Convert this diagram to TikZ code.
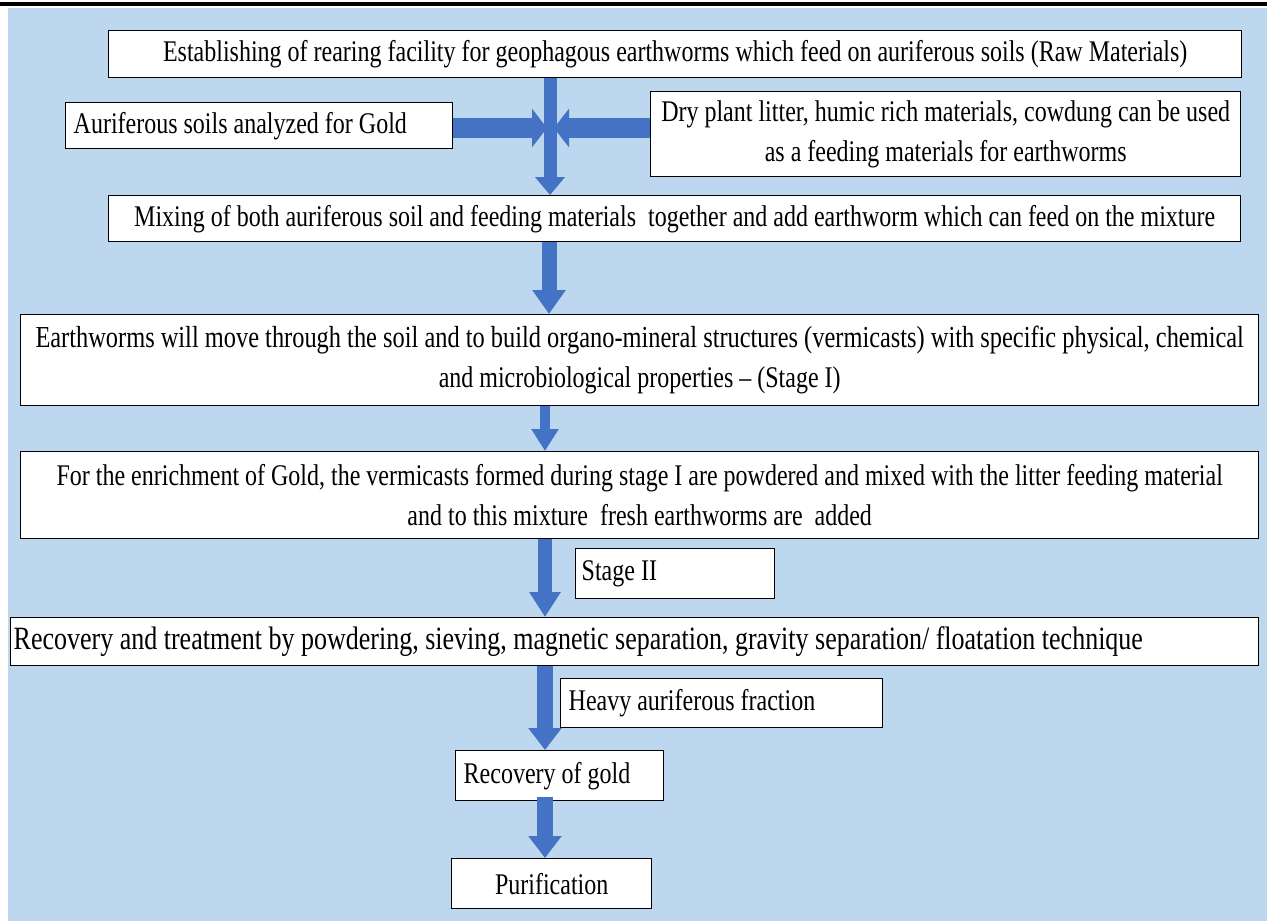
\documentclass[tikz,border=0pt]{standalone}
\usepackage{fontspec}
\setmainfont{Liberation Serif}[FakeStretch=0.8]
\usetikzlibrary{arrows.meta}
\definecolor{bgblue}{HTML}{BDD7EE}
\definecolor{ablue}{HTML}{4472C4}
\tikzset{
  box/.style={draw=black, line width=1.4pt, fill=white, inner sep=0pt, anchor=north west,
    font=\fontsize{30}{40}\selectfont, align=center},
  lbox/.style={box, inner xsep=8pt},
  blockarrow/.style n args={3}{draw=ablue, line width=#1, -{Triangle[width=#2,length=#3]}},
}
\begin{document}
\begin{tikzpicture}[x=1pt,y=-1pt]
\useasboundingbox (0,0) rectangle (1267,921);
\fill[black] (0,1.5) rectangle (1267,6);
\fill[bgblue] (8,8) rectangle (1267,921);

\node[box, minimum width=1133pt, minimum height=47pt] (est) at (108,30)
  {Establishing of rearing facility for geophagous earthworms which feed on auriferous soils (Raw Materials)};
\node[lbox, minimum height=46pt] (aur) at (65,102)
  {\makebox[371pt][l]{Auriferous soils analyzed for Gold}};
\node[box, minimum width=590pt, minimum height=85pt] (dry) at (650,91)
  {Dry plant litter, humic rich materials, cowdung can be used\\as a feeding materials for earthworms};
\node[box, minimum width=1132pt, minimum height=46pt] (mix) at (108,195)
  {Mixing of both auriferous soil and feeding materials\ \ together and add earthworm which can feed on the mixture};
\node[box, minimum width=1238pt, minimum height=91pt] (earth) at (20,314)
  {\fontsize{30.5}{41}\selectfont Earthworms will move through the soil and to build organo-mineral structures (vermicasts) with specific physical, chemical\\and microbiological properties -- (Stage I)};
\node[box, minimum width=1238pt, minimum height=87pt] (enrich) at (20,451)
  {For the enrichment of Gold, the vermicasts formed during stage I are powdered and mixed with the litter feeding material\\and to this mixture\ \ fresh earthworms are\ \ added};
\node[lbox, inner xsep=6pt, minimum height=50pt] (stage) at (575,548)
  {\makebox[187pt][l]{Stage II}};
\node[lbox, inner xsep=3pt, minimum height=48pt] (rec) at (10,617)
  {\makebox[1242pt][l]{\fontsize{32.5}{40}\selectfont Recovery and treatment by powdering, sieving, magnetic separation, gravity separation/ floatation technique}};
\node[lbox, minimum height=49pt] (heavy) at (560,678)
  {\makebox[306pt][l]{Heavy auriferous fraction}};
\node[lbox, minimum height=50pt] (gold) at (455,750)
  {\makebox[192pt][l]{Recovery of gold}};
\node[box, minimum width=200pt, minimum height=50pt] (puri) at (451,858)
  {Purification};

\coordinate (c1) at (550,0);
\coordinate (c2) at (549,0);
\coordinate (c3) at (545,0);
\coordinate (hy) at (0,128);
\coordinate (cl) at (547,0);
\coordinate (cr) at (554,0);

\draw[blockarrow={13pt}{29pt}{18pt}] (est.south -| c1) -- (mix.north -| c1);
\draw[blockarrow={20pt}{38pt}{15pt}] (aur.east |- hy) -- (cl |- hy);
\draw[blockarrow={20pt}{38pt}{15pt}] (dry.west |- hy) -- (cr |- hy);
\draw[blockarrow={15pt}{32pt}{24pt}] (mix.south -| c2) -- (earth.north -| c2);
\draw[blockarrow={10pt}{26pt}{22pt}] (earth.south -| c3) -- (enrich.north -| c3);
\draw[blockarrow={14pt}{30pt}{25pt}] (enrich.south -| c3) -- (rec.north -| c3);
\draw[blockarrow={16pt}{32pt}{22pt}] (rec.south -| c3) -- (gold.north -| c3);
\draw[blockarrow={16pt}{32pt}{22pt}] ([yshift=4pt]gold.south -| c3) -- (puri.north -| c3);
\end{tikzpicture}
\end{document}
